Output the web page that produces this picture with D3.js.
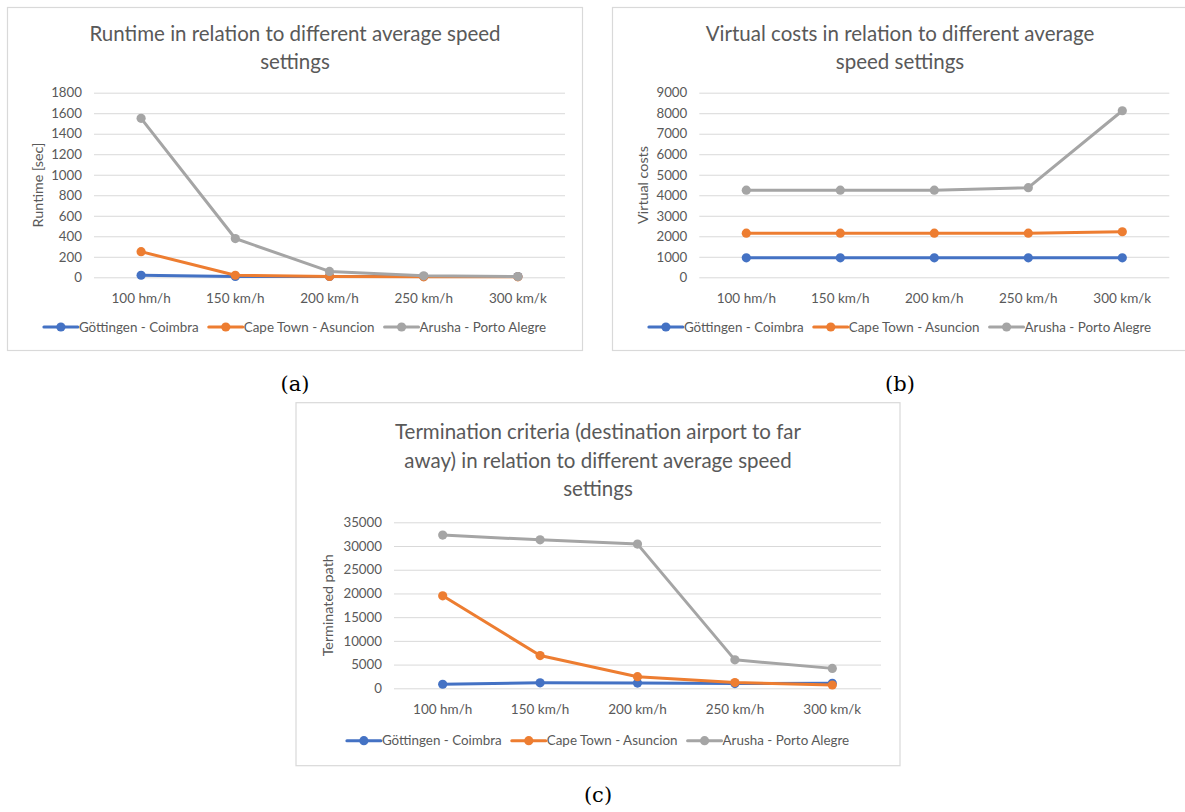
<!DOCTYPE html>
<html><head><meta charset="utf-8">
<script src="https://cdn.jsdelivr.net/npm/d3@7"></script>
<style>
body{margin:0;background:#fff;}
svg{display:block;font-family:Lato,'Open Sans',sans-serif;}
</style>
</head><body>
<svg id="chart" width="1185" height="812"></svg>
<script>
// ---- data ----
const categories = ["100 hm/h", "150 km/h", "200 km/h", "250 km/h", "300 km/k"];
const seriesNames = ["Göttingen - Coimbra", "Cape Town - Asuncion", "Arusha - Porto Alegre"];

const runtimeGottingen = [20, 8, 8, 8, 8];
const runtimeCapeTown  = [250, 20, 8, 5, 5];
const runtimeArusha    = [1550, 378, 57, 14, 8];
const runtimeTicks = [0, 200, 400, 600, 800, 1000, 1200, 1400, 1600, 1800];

const costsGottingen = [950, 950, 950, 950, 950];
const costsCapeTown  = [2150, 2150, 2150, 2150, 2220];
const costsArusha    = [4250, 4250, 4250, 4370, 8120];
const costsTicks = [0, 1000, 2000, 3000, 4000, 5000, 6000, 7000, 8000, 9000];

const termGottingen = [850, 1150, 1100, 1000, 1050];
const termCapeTown  = [19500, 6900, 2450, 1200, 700];
const termArusha    = [32300, 31300, 30400, 6000, 4200];
const termTicks = [0, 5000, 10000, 15000, 20000, 25000, 30000, 35000];

const colors = ["#4472C4", "#ED7D31", "#A5A5A5"];
const textColor = "#595959";

const svg = d3.select("#chart");

function panel(cfg) {
  const g = svg.append("g");
  g.append("rect")
    .attr("x", cfg.box[0]).attr("y", cfg.box[1])
    .attr("width", cfg.box[2] - cfg.box[0]).attr("height", cfg.box[3] - cfg.box[1])
    .attr("fill", "#fff").attr("stroke", "#D9D9D9").attr("stroke-width", 1.2);
  const cx = (cfg.box[0] + cfg.box[2]) / 2;

  cfg.title.forEach((t, i) => {
    g.append("text").attr("x", cx).attr("y", cfg.titleY[i])
      .attr("text-anchor", "middle").attr("dy", "0.35em")
      .attr("font-size", 20.5).attr("fill", textColor).text(t);
  });

  const [l, r, t, b] = cfg.plot;
  const x = d3.scaleBand().domain(categories).range([l, r]).padding(0);
  const yMax = d3.max(cfg.ticks);
  const y = d3.scaleLinear().domain([0, yMax]).range([b, t]);

  const ya = g.append("g").attr("transform", `translate(${l},0)`)
    .call(d3.axisLeft(y).tickValues(cfg.ticks).tickSize(-(r - l)).tickPadding(12).tickFormat(d3.format("d")));
  ya.select(".domain").remove();
  ya.selectAll(".tick line").attr("stroke", "#D9D9D9").attr("stroke-width", 1);
  ya.selectAll(".tick text").attr("fill", textColor).attr("font-size", 13.3).attr("font-family", "Lato,'Open Sans',sans-serif");

  const xa = g.append("g").attr("transform", `translate(0,${b})`)
    .call(d3.axisBottom(x).tickSize(0));
  xa.select(".domain").remove();
  xa.selectAll(".tick text").attr("y", 20.7).attr("dy", "0.35em")
    .attr("fill", textColor).attr("font-size", 13.5).attr("font-family", "Lato,'Open Sans',sans-serif");

  g.append("text")
    .attr("transform", `translate(${cfg.yTitleX},${(t + b) / 2}) rotate(-90)`)
    .attr("text-anchor", "middle").attr("dy", "0.35em")
    .attr("font-size", 14.3).attr("fill", textColor).text(cfg.yTitle);

  const xc = (d, i) => x(categories[i]) + x.bandwidth() / 2;
  const line = d3.line().x(xc).y(d => y(d));
  cfg.series.forEach((vals, si) => {
    g.append("path").datum(vals).attr("d", line)
      .attr("fill", "none").attr("stroke", colors[si]).attr("stroke-width", 3)
      .attr("stroke-linejoin", "round").attr("stroke-linecap", "round");
    g.selectAll(null).data(vals).enter().append("circle")
      .attr("cx", xc).attr("cy", d => y(d)).attr("r", 4.6)
      .attr("fill", colors[si]);
  });

  const lg = g.append("g");
  let pos = 0;
  seriesNames.forEach((name, si) => {
    const it = lg.append("g");
    it.append("line").attr("x1", 0).attr("x2", 34).attr("y1", 0).attr("y2", 0)
      .attr("stroke", colors[si]).attr("stroke-width", 3).attr("stroke-linecap", "round");
    it.append("circle").attr("cx", 17).attr("cy", 0).attr("r", 4.6).attr("fill", colors[si]);
    const tx = it.append("text").attr("x", 35).attr("dy", "0.35em")
      .attr("font-size", 13.4).attr("fill", textColor).text(name);
    const w = 35 + tx.node().getComputedTextLength();
    it.attr("transform", `translate(${pos},0)`);
    pos += w + 10;
  });
  const total = pos - 10;
  lg.attr("transform", `translate(${cx - total / 2},${cfg.legendY})`);

  svg.append("text").attr("x", cx).attr("y", cfg.labelY)
    .attr("text-anchor", "middle").attr("font-family", "'DejaVu Serif',serif")
    .attr("font-size", 21).attr("fill", "#000").text(cfg.label);
}

panel({
  box: [7.5, 7.5, 582.5, 350.5],
  plot: [94, 565, 92.7, 277.3],
  title: ["Runtime in relation to different average speed", "settings"],
  titleY: [33.5, 61.4],
  ticks: runtimeTicks,
  yTitle: "Runtime [sec]",
  yTitleX: 38,
  series: [runtimeGottingen, runtimeCapeTown, runtimeArusha],
  legendY: 327,
  label: "(a)",
  labelY: 391
});

panel({
  box: [612.5, 7.5, 1187.5, 350.5],
  plot: [699.3, 1169.3, 92.7, 277.3],
  title: ["Virtual costs in relation to different average", "speed settings"],
  titleY: [33.5, 61.4],
  ticks: costsTicks,
  yTitle: "Virtual costs",
  yTitleX: 643,
  series: [costsGottingen, costsCapeTown, costsArusha],
  legendY: 327,
  label: "(b)",
  labelY: 391
});

panel({
  box: [296, 402.7, 900, 765.7],
  plot: [394, 881, 522.3, 688.3],
  title: ["Termination criteria (destination airport to far", "away) in relation to different average speed", "settings"],
  titleY: [431.7, 460.5, 489.3],
  ticks: termTicks,
  yTitle: "Terminated path",
  yTitleX: 327.5,
  series: [termGottingen, termCapeTown, termArusha],
  legendY: 740.7,
  label: "(c)",
  labelY: 802
});
</script>
</body></html>
